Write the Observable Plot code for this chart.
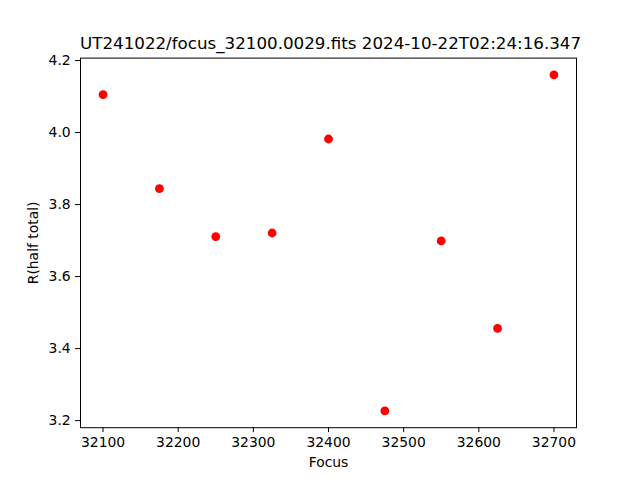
<!DOCTYPE html>
<html>
<head>
<meta charset="utf-8">
<script src="https://cdn.jsdelivr.net/npm/d3@7"></script>
<script src="https://cdn.jsdelivr.net/npm/@observablehq/plot@0.6"></script>
<style>
  html, body { margin: 0; padding: 0; background: #fff; }
  #wrap { position: relative; width: 640px; height: 480px; font-family: "DejaVu Sans", sans-serif; }
  #title { position: absolute; left: 80px; width: 496px; top: 33px; text-align: center; font-size: 16.7px; white-space: nowrap; color: #000; line-height: 20px; }
  #chart { position: absolute; left: 0; top: 0; }
</style>
</head>
<body>
<div id="wrap">
  <div id="chart"></div>
  <div id="title">UT241022/focus_32100.0029.fits 2024-10-22T02:24:16.347</div>
</div>
<script>
const titleText = "UT241022/focus_32100.0029.fits 2024-10-22T02:24:16.347";
const xLabel = "Focus";
const yLabel = "R(half total)";
const focus = [32100, 32175, 32250, 32325, 32400, 32475, 32550, 32625, 32700];
const rHalf = [4.105, 3.844, 3.711, 3.721, 3.982, 3.227, 3.699, 3.456, 4.160];
const xTicks = [32100, 32200, 32300, 32400, 32500, 32600, 32700];
const yTicks = [3.2, 3.4, 3.6, 3.8, 4.0, 4.2];

const data = focus.map((f, i) => ({focus: f, r: rHalf[i]}));

const xMin = d3.min(focus), xMax = d3.max(focus);
const yMin = d3.min(rHalf), yMax = d3.max(rHalf);
const xPad = (xMax - xMin) * 0.05, yPad = (yMax - yMin) * 0.05;

const chart = Plot.plot({
  width: 640,
  height: 480,
  marginLeft: 80,
  marginRight: 64,
  marginTop: 57.6,
  marginBottom: 52.8,
  style: {fontFamily: "DejaVu Sans, sans-serif", fontSize: "13.9px", color: "#000", background: "#fff", overflow: "visible"},
  x: {domain: [xMin - xPad, xMax + xPad]},
  y: {domain: [yMin - yPad, yMax + yPad]},
  marks: [
    Plot.axisX({ticks: xTicks, tickFormat: d => String(d), tickSize: 4.9, tickPadding: 4.9, label: xLabel, labelAnchor: "center", labelArrow: "none", labelOffset: 39, fontSize: 13.9}),
    Plot.axisY({ticks: yTicks, tickFormat: d => d.toFixed(1), tickSize: 4.9, tickPadding: 4.9, label: yLabel, labelAnchor: "center", labelArrow: "none", labelOffset: 52, fontSize: 13.9}),
    Plot.dot(data, {x: "focus", y: "r", r: 4.4, fill: "red", stroke: "none"}),
    Plot.frame({stroke: "#000", strokeWidth: 1})
  ]
});
document.getElementById("chart").appendChild(chart);
</script>
</body>
</html>
